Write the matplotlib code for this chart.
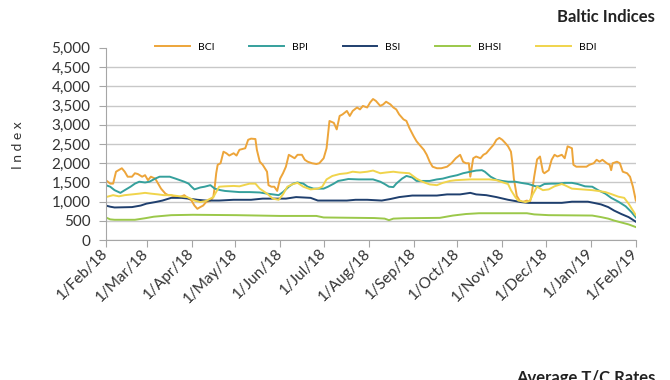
import numpy as np
import pandas as pd
import matplotlib
matplotlib.use('Agg')
import matplotlib.pyplot as plt
import matplotlib.dates as mdates

plt.rcParams['font.family'] = ['Lato', 'DejaVu Sans']

start = pd.Timestamp('2018-02-01')

# values, x = days after 1/Feb/18
bci_days = [0, 3, 5, 7, 11, 13, 15, 18, 20, 22, 25, 27, 29, 31, 34, 36, 38, 41, 43, 45,
            48, 51, 54, 57, 59, 61, 63, 65, 67, 69, 72, 74, 75, 76, 77, 79, 81, 83, 85, 88,
            90, 92, 96, 98, 100, 103, 104, 106, 108, 111, 112, 114, 116, 118, 120, 122, 124, 126, 128, 130,
            132, 135, 137, 139, 142, 145, 147, 150, 152, 154, 157, 159, 161, 163, 166, 168, 170, 173, 175, 177,
            180, 182, 184, 186, 189, 191, 193, 196, 198, 200, 202, 205, 207, 209, 212, 214, 216, 219, 221, 223,
            225, 228, 231, 235, 238, 241, 244, 246, 248, 250, 251, 253, 255, 258, 260, 262, 264, 267, 269, 271,
            273, 275, 277, 279, 280, 281, 283, 285, 287, 290, 292, 293, 295, 297, 299, 301, 302, 305, 307, 309,
            311, 314, 316, 318, 321, 322, 324, 328, 331, 333, 336, 338, 340, 342, 345, 347, 348, 349, 352, 354,
            356, 359, 361, 363, 365]
bci = [1560, 1470, 1470, 1780, 1870, 1780, 1650, 1650, 1740, 1720, 1650, 1690, 1560, 1650, 1600, 1470, 1340, 1210, 1170, 1170,
       1120, 1120, 1170, 1080, 1030, 900, 815, 860, 900, 990, 1030, 1120, 1390, 1740, 1960, 2000, 2300, 2260, 2200, 2260,
       2200, 2350, 2390, 2610, 2640, 2630, 2350, 2040, 1960, 1780, 1430, 1390, 1390, 1280, 1600, 1740, 1910, 2220, 2175, 2130,
       2220, 2220, 2090, 2040, 2000, 1980, 2000, 2130, 2390, 3100, 3050, 2880, 3230, 3270, 3360, 3230, 3360, 3450, 3400, 3490,
       3450, 3580, 3670, 3620, 3490, 3530, 3600, 3530, 3450, 3400, 3270, 3140, 3100, 2920, 2700, 2570, 2480, 2350, 2220, 2040,
       1910, 1870, 1870, 1910, 2000, 2130, 2220, 2040, 2000, 2000, 1650, 2130, 2175, 2130, 2220, 2260, 2350, 2480, 2610, 2660,
       2610, 2530, 2440, 2300, 2000, 1600, 1150, 1030, 990, 1030, 990, 1120, 1650, 2100, 2175, 1780, 1740, 1820, 2090, 2220,
       2175, 2220, 2130, 2440, 2390, 1960, 1910, 1910, 1910, 1960, 2000, 2090, 2040, 2090, 2000, 1960, 1820, 2000, 2040, 2000,
       1780, 1740, 1650, 1390, 1030]

bpi_days = [0, 3, 6, 10, 13, 17, 20, 23, 27, 30, 34, 37, 44, 48, 51, 54, 57, 59, 61, 65,
            68, 72, 75, 79, 82, 92, 99, 106, 111, 115, 119, 122, 126, 129, 132, 136, 139, 143, 150, 153,
            157, 160, 163, 167, 174, 180, 184, 189, 192, 195, 198, 200, 204, 207, 211, 214, 223, 228, 232, 237,
            242, 246, 251, 255, 259, 261, 265, 269, 273, 277, 282, 286, 291, 296, 299, 302, 307, 312, 316, 321,
            325, 330, 335, 339, 344, 348, 353, 358, 362, 365]
bpi = [1430, 1390, 1300, 1230, 1300, 1390, 1470, 1520, 1500, 1520, 1600, 1650, 1650, 1600, 1560, 1520, 1470, 1390, 1320, 1370,
       1390, 1430, 1340, 1300, 1280, 1250, 1250, 1240, 1210, 1190, 1170, 1250, 1390, 1470, 1500, 1470, 1390, 1340, 1340, 1390,
       1470, 1540, 1560, 1590, 1580, 1580, 1580, 1520, 1460, 1390, 1380, 1470, 1600, 1670, 1630, 1540, 1540, 1580, 1600, 1650,
       1690, 1740, 1780, 1810, 1820, 1780, 1650, 1570, 1540, 1520, 1520, 1490, 1460, 1400, 1400, 1460, 1470, 1470, 1490, 1490,
       1460, 1400, 1390, 1300, 1210, 1100, 1000, 880, 730, 590]

bsi_days = [0, 3, 6, 18, 24, 28, 34, 39, 45, 52, 57, 63, 69, 78, 88, 100, 108, 124, 131, 141,
            146, 166, 172, 180, 190, 196, 202, 211, 228, 235, 244, 251, 255, 262, 269, 277, 286, 291, 314, 321,
            332, 336, 341, 346, 350, 355, 360, 365]
bsi = [900, 870, 850, 860, 900, 950, 990, 1030, 1100, 1100, 1080, 1050, 1030, 1030, 1050, 1050, 1080, 1080, 1120, 1100,
       1030, 1030, 1050, 1050, 1030, 1070, 1120, 1160, 1160, 1190, 1190, 1230, 1190, 1170, 1120, 1050, 990, 970, 970, 1000,
       1000, 970, 930, 860, 770, 680, 600, 480]

bhsi_days = [0, 3, 6, 20, 27, 33, 45, 60, 90, 120, 145, 150, 185, 192, 195, 198, 205, 230, 239, 248,
             257, 290, 295, 305, 335, 341, 346, 350, 355, 360, 365]
bhsi = [590, 540, 530, 530, 570, 610, 650, 660, 650, 630, 630, 590, 575, 560, 520, 560, 570, 580, 640, 680,
        700, 700, 670, 650, 640, 600, 560, 510, 460, 410, 340]

bdi_days = [0, 5, 9, 13, 18, 23, 27, 31, 36, 40, 45, 51, 56, 61, 65, 69, 74, 78, 82, 88,
            92, 99, 103, 106, 111, 115, 119, 122, 125, 129, 132, 136, 141, 146, 149, 152, 156, 161, 166, 170,
            175, 180, 184, 189, 193, 198, 202, 209, 214, 218, 223, 228, 232, 237, 241, 251, 264, 269, 272, 277,
            279, 282, 284, 289, 292, 294, 297, 301, 305, 309, 314, 316, 321, 328, 335, 339, 344, 348, 353, 357,
            360, 365]
bdi = [1120, 1170, 1140, 1170, 1190, 1210, 1230, 1210, 1190, 1170, 1170, 1140, 1120, 1030, 990, 1020, 1120, 1390, 1400, 1410,
       1400, 1470, 1470, 1340, 1210, 1080, 1050, 1190, 1390, 1460, 1490, 1390, 1320, 1340, 1390, 1580, 1670, 1720, 1740, 1780,
       1760, 1780, 1810, 1740, 1760, 1780, 1760, 1740, 1600, 1520, 1450, 1430, 1490, 1540, 1560, 1580, 1580, 1560, 1520, 1460,
       1300, 1120, 1030, 990, 1020, 1190, 1390, 1300, 1320, 1400, 1460, 1430, 1340, 1320, 1300, 1280, 1250, 1200, 1130, 1100,
       950, 650]

names = ['BCI', 'BPI', 'BSI', 'BHSI', 'BDI']
colors = ['#EDA53A', '#35A09C', '#1F3F6E', '#9BC84A', '#F0D44C']
series = [(bci_days, bci), (bpi_days, bpi), (bsi_days, bsi), (bhsi_days, bhsi), (bdi_days, bdi)]

fig = plt.figure(figsize=(6.7, 3.8), dpi=100)
ax = fig.add_axes([0.158, 0.368, 0.791, 0.506])

for name, col, (d, v) in zip(names, colors, series):
    x = start + pd.to_timedelta(d, unit='D')
    ax.plot(x, v, color=col, lw=1.4, label=name)

ax.set_ylim(0, 5000)
ax.set_yticks(np.arange(0, 5001, 500))
ax.set_yticklabels(['{:,}'.format(t) for t in range(0, 5001, 500)])
ax.set_xlim(start, pd.Timestamp('2019-02-01'))
ax.xaxis.set_major_locator(mdates.MonthLocator())
ax.xaxis.set_major_formatter(mdates.DateFormatter('1/%b/%y'))

ax.yaxis.grid(True, color='#C8C8C8', lw=1)
ax.set_axisbelow(True)
ax.yaxis.get_gridlines()[-1].set_visible(False)
for s in ['top', 'right']:
    ax.spines[s].set_visible(False)
for s in ['left', 'bottom']:
    ax.spines[s].set_color('#A6A6A6')
ax.tick_params(axis='y', length=5, color='#A6A6A6', labelsize=11, labelcolor='#333333', pad=6)
ax.tick_params(axis='x', length=5, color='#A6A6A6', labelsize=11, labelcolor='#333333', pad=3,
               labelrotation=45)
plt.setp(ax.get_xticklabels(), ha='right', va='center', rotation_mode='anchor')

fig.legend(loc='center left', bbox_to_anchor=(155 / 670, 1 - 47 / 380), ncol=5, frameon=False,
           fontsize=7.5, handlelength=3.35, handletextpad=0.75, columnspacing=3.35,
           borderpad=0, borderaxespad=0)

fig.text(18 / 670, 1 - 145 / 380, 'I n d e x', rotation=90, ha='center', va='center',
         fontsize=10, color='#333333')
fig.text(0.978, 1 - 17 / 380, 'Baltic Indices', ha='right', va='center', fontsize=12,
         fontweight='bold', color='#222222')
fig.text(0.978, 0.026, 'Average T/C Rates', ha='right', va='top', fontsize=12,
         fontweight='bold', color='#222222')

fig.savefig('out.png', dpi=100)
